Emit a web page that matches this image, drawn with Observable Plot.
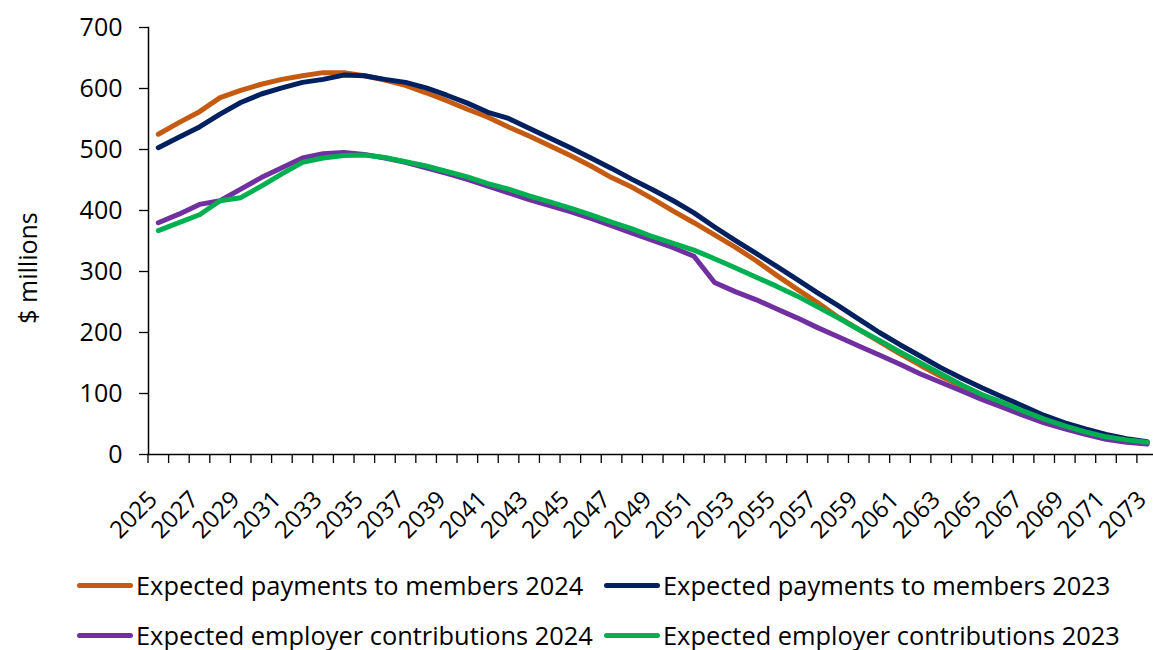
<!DOCTYPE html>
<html>
<head>
<meta charset="utf-8">
<script src="https://cdn.jsdelivr.net/npm/d3@7"></script>
<script src="https://cdn.jsdelivr.net/npm/@observablehq/plot@0.6"></script>
<style>
  html, body { margin: 0; padding: 0; background: #fff; }
  #wrap { position: relative; width: 1153px; height: 650px; font-family: "Open Sans", sans-serif; color: #000; }
  #legend { position: absolute; left: 0; top: 0; width: 1153px; height: 650px; pointer-events: none; }
  .item { position: absolute; display: flex; align-items: center; font-size: 25.4px; white-space: nowrap; line-height: 1; }
  .sw { display: inline-block; width: 56px; height: 5px; border-radius: 3px; margin-right: 3px; }
</style>
</head>
<body>
<div id="wrap"><div id="chart"></div><div id="legend"></div></div>
<script>
const years = [2025,2026,2027,2028,2029,2030,2031,2032,2033,2034,2035,2036,2037,2038,2039,2040,2041,2042,2043,2044,2045,2046,2047,2048,2049,2050,2051,2052,2053,2054,2055,2056,2057,2058,2059,2060,2061,2062,2063,2064,2065,2066,2067,2068,2069,2070,2071,2072,2073];
const seriesNames = [
  "Expected payments to members 2024",
  "Expected payments to members 2023",
  "Expected employer contributions 2024",
  "Expected employer contributions 2023"
];
const seriesColors = ["#C55A11", "#002060", "#7030A0", "#00B050"];
const payments2024 = [525,544,562,585,597,607,615,621,626,626,621,614,605,593,580,566,553,537,522,506,490,473,454,438,419,399,380,360,340,318,294,271,249,225,205,185,165,146,128,112,97,83,70,57,46,36,28,23,19];
const payments2023 = [503,520,537,558,577,591,601,610,615,622,621,615,610,601,589,576,561,551,535,519,503,486,469,451,434,416,396,373,351,330,309,287,265,244,222,200,180,161,142,125,109,94,79,64,52,42,33,26,21];
const contributions2024 = [380,394,410,416,435,454,470,486,493,495,492,486,479,470,461,451,440,429,418,408,398,387,375,363,351,339,325,282,267,254,239,224,208,193,178,163,148,132,118,104,90,77,64,52,42,33,25,20,17];
const contributions2023 = [367,380,393,416,421,440,460,479,486,490,491,487,480,473,464,455,444,435,424,414,404,393,381,370,357,346,335,321,306,291,276,260,242,224,205,187,168,150,132,114,98,85,71,58,47,37,29,24,20];
const yTicks = [0,100,200,300,400,500,600,700];
const xLabels = [2025,2027,2029,2031,2033,2035,2037,2039,2041,2043,2045,2047,2049,2051,2053,2055,2057,2059,2061,2063,2065,2067,2069,2071,2073];

const valueSets = [payments2024, payments2023, contributions2024, contributions2023];
const data = [];
valueSets.forEach((vals, s) => vals.forEach((v, i) => data.push({year: years[i], value: v, series: seriesNames[s]})));
const bounds = years.map(y => y - 0.5).concat([years[years.length - 1] + 0.5]);

const chart = Plot.plot({
  width: 1153,
  height: 550,
  marginLeft: 148,
  marginRight: 0,
  marginTop: 27,
  marginBottom: 96,
  x: {domain: [2024.5, 2073.5], range: [147.5, 1157]},
  y: {domain: [0, 700]},
  color: {domain: seriesNames, range: seriesColors},
  style: {fontFamily: "Open Sans", fontSize: "25px", color: "#000", background: "#fff"},
  marks: [
    Plot.axisY({ticks: yTicks, tickSize: 9, tickPadding: 17, label: null, stroke: "#000", strokeWidth: 1.3, tickFormat: d => String(d)}),
    Plot.axisX({ticks: bounds, tickSize: 9, tickFormat: () => "", label: null, stroke: "#000", strokeWidth: 1.3}),
    Plot.text(xLabels, {x: d => d, text: d => String(d), frameAnchor: "bottom", rotate: -45, textAnchor: "end", lineAnchor: "middle", dx: -5, dy: 41, fontSize: 24, fill: "#000"}),
    Plot.frame({anchor: "left", stroke: "#000", strokeWidth: 1.5}),
    Plot.frame({anchor: "bottom", stroke: "#000", strokeWidth: 1.5}),
    Plot.text(["$ millions"], {frameAnchor: "left", rotate: -90, textAnchor: "middle", lineAnchor: "middle", dx: -120, dy: 27, fontSize: 25}),
    Plot.line(data, {x: "year", y: "value", z: "series", stroke: "series", strokeWidth: 5, strokeLinejoin: "round", strokeLinecap: "round"})
  ]
});
document.getElementById("chart").appendChild(chart);

const legend = document.getElementById("legend");
const pos = [[77, 587], [604, 587], [77, 637], [604, 637]];
seriesNames.forEach((name, i) => {
  const el = document.createElement("div");
  el.className = "item";
  el.style.left = pos[i][0] + "px";
  el.style.top = (pos[i][1] - 14) + "px";
  el.innerHTML = `<span class="sw" style="background:${seriesColors[i]}"></span><span>${name}</span>`;
  legend.appendChild(el);
});
</script>
</body>
</html>
